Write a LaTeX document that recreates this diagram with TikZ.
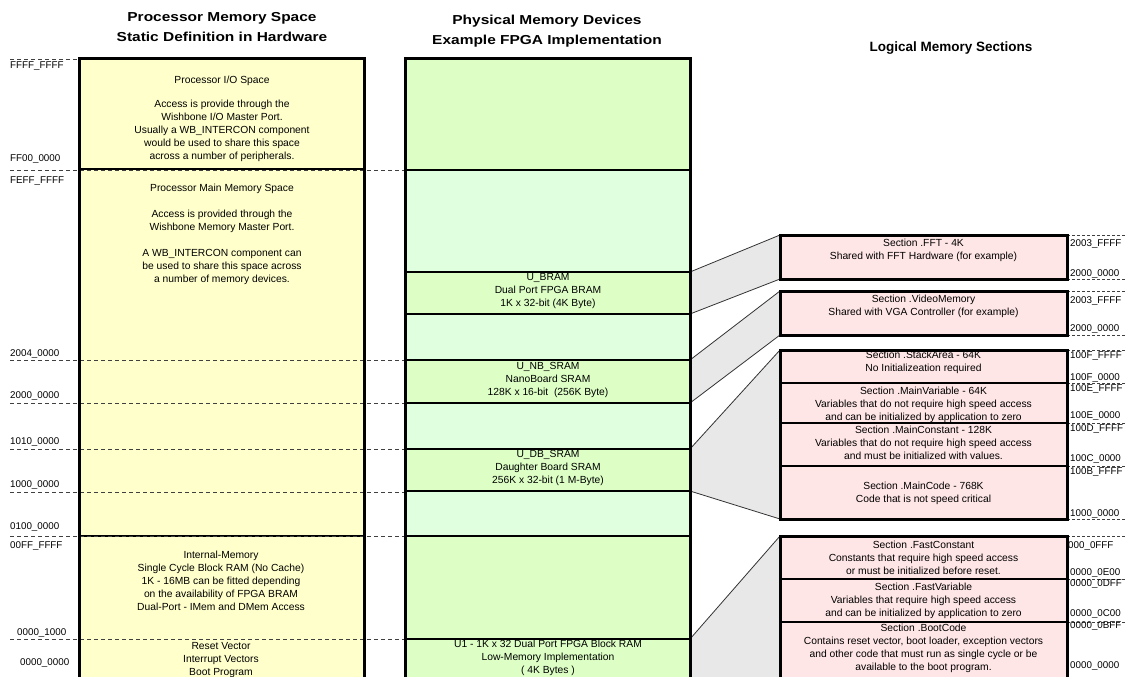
\documentclass[tikz,border=0pt]{standalone}
\usepackage{fontspec}
\setmainfont{Liberation Sans}
\newfontfamily\hdrfont{Liberation Sans}[FakeStretch=1.19]
\definecolor{ylw}{RGB}{255,255,204}
\definecolor{gdark}{RGB}{221,255,198}
\definecolor{glight}{RGB}{224,255,222}
\definecolor{pinkc}{RGB}{255,230,230}
\definecolor{wedgec}{RGB}{232,232,232}
\pgfdeclarelayer{bg}
\pgfsetlayers{bg,main}
\begin{document}
\begin{tikzpicture}[x=1pt,y=-1pt,
  blk/.style={draw=black, line width=1.6pt, inner sep=0pt, outer sep=0pt, anchor=north west, rectangle},
  lcol/.style={blk, fill=ylw, minimum width=285pt},
  mdark/.style={blk, fill=gdark, minimum width=285pt},
  mlight/.style={blk, fill=glight, minimum width=285pt},
  rbox/.style={blk, fill=pinkc, minimum width=287pt},
  txt/.style={font=\fontsize{10.3}{13}\selectfont, align=center, inner sep=0pt},
  adr/.style={font=\fontsize{9.8}{11}\selectfont, inner sep=0pt, anchor=base west},
  hdr/.style={font=\hdrfont\bfseries\fontsize{13}{20}\selectfont, align=center, inner sep=0pt},
  dsh/.style={black!75, line width=0.9pt, dash pattern=on 4pt off 3pt},
  rdsh/.style={black!75, line width=0.8pt, dash pattern=on 3pt off 2pt},
  wline/.style={draw=black!80, line width=0.8pt},
  outline/.style={draw=black, line width=3pt}
]
\useasboundingbox (0,0) rectangle (1127,677);
\clip (0,0) rectangle (1127,677);

% headers
\node[hdr] (h1) at (222,27) {Processor Memory Space\\Static Definition in Hardware};
\node[hdr] (h2) at (547,31) {Physical Memory Devices\\Example FPGA Implementation};
\node[hdr, anchor=base, font=\bfseries\fontsize{13.5}{20}\selectfont] (h3) at (951,51.6) {Logical Memory Sections};

% left column
\node[lcol, minimum height=110pt] (io) at (79,59) {};
\node[lcol, minimum height=367pt] (mainm) at (79,169) {};
\node[lcol, minimum height=154pt] (intm) at (79,536) {};

% middle column
\node[mdark, minimum height=111pt] (m1) at (405,59) {};
\node[mlight, minimum height=102pt] (m2) at (405,170) {};
\node[mdark, minimum height=42pt] (bram) at (405,272) {};
\node[mlight, minimum height=46pt] (m4) at (405,314) {};
\node[mdark, minimum height=43pt] (nbsram) at (405,360) {};
\node[mlight, minimum height=46pt] (m6) at (405,403) {};
\node[mdark, minimum height=42pt] (dbsram) at (405,449) {};
\node[mlight, minimum height=45pt] (m8) at (405,491) {};
\node[mdark, minimum height=103pt] (m9) at (405,536) {};
\node[mdark, minimum height=51pt] (u1) at (405,639) {};

% right column
\node[rbox, minimum height=44pt] (fft) at (780,235) {};
\node[rbox, minimum height=44pt] (video) at (780,291) {};
\node[rbox, minimum height=33pt] (stack) at (780,350) {};
\node[rbox, minimum height=40pt] (mvar) at (780,383) {};
\node[rbox, minimum height=43pt] (mconst) at (780,423) {};
\node[rbox, minimum height=53pt] (mcode) at (780,466) {};
\node[rbox, minimum height=43pt] (fconst) at (780,536) {};
\node[rbox, minimum height=43pt] (fvar) at (780,579) {};
\node[rbox, minimum height=68pt] (boot) at (780,622) {};

% wedges
\begin{pgfonlayer}{bg}
\fill[wedgec] (bram.north east) -- (fft.north west) -- (fft.south west) -- (bram.south east) -- cycle;
\fill[wedgec] (nbsram.north east) -- (video.north west) -- (video.south west) -- (nbsram.south east) -- cycle;
\fill[wedgec] (dbsram.north east) -- (stack.north west) -- (mcode.south west) -- (dbsram.south east) -- cycle;
\fill[wedgec] (u1.north east) -- (fconst.north west) -- (boot.south west) -- (u1.south east) -- cycle;
\end{pgfonlayer}
\draw[wline] (bram.north east) -- (fft.north west);
\draw[wline] (bram.south east) -- (fft.south west);
\draw[wline] (nbsram.north east) -- (video.north west);
\draw[wline] (nbsram.south east) -- (video.south west);
\draw[wline] (dbsram.north east) -- (stack.north west);
\draw[wline] (dbsram.south east) -- (mcode.south west);
\draw[wline] (u1.north east) -- (fconst.north west);

% dashed address lines, left
\draw[dsh] (10,59) -- (79,59);
\foreach \yy in {170,360,403,449,492,536,639} \draw[dsh] (10,\yy) -- (405,\yy);
% dashed address lines, right
\foreach \yy in {235,279,291,335,350,383,423,466,519,536,579,622} \draw[rdsh] (1067,\yy) -- (1127,\yy);

% outlines
\draw[outline] (io.north west) rectangle (intm.south east);
\draw[outline] (m1.north west) rectangle (u1.south east);
\draw[outline] (fft.north west) rectangle (fft.south east);
\draw[outline] (video.north west) rectangle (video.south east);
\draw[outline] (stack.north west) rectangle (mcode.south east);
\draw[outline] (fconst.north west) rectangle (boot.south east);

% left texts
\node[txt] (tio) at (222,119) {Processor I/O Space\\[11pt]Access is provide through the\\Wishbone I/O Master Port.\\Usually a WB\_INTERCON component\\would be used to share this space\\across a number of peripherals.};
\node[txt] (tmain) at (222,234.5) {Processor Main Memory Space\\[13pt]Access is provided through the\\Wishbone Memory Master Port.\\[13pt]A WB\_INTERCON component can\\be used to share this space across\\a number of memory devices.};
\node[txt] (tint) at (221,581) {Internal-Memory\\Single Cycle Block RAM (No Cache)\\1K - 16MB can be fitted depending\\on the availability of FPGA BRAM\\Dual-Port - IMem and DMem Access};
\node[txt] (treset) at (221,660) {Reset Vector\\Interrupt Vectors\\Boot Program};

% middle texts
\node[txt] (tbram) at (548,291) {U\_BRAM\\Dual Port FPGA BRAM\\1K x 32-bit (4K Byte)};
\node[txt] (tnb) at (548,379.5) {U\_NB\_SRAM\\NanoBoard SRAM\\128K x 16-bit\ \ (256K Byte)};
\node[txt] (tdb) at (548,468) {U\_DB\_SRAM\\Daughter Board SRAM\\256K x 32-bit (1 M-Byte)};
\node[txt] (tu1) at (548,658) {U1 - 1K x 32 Dual Port FPGA Block RAM\\Low-Memory Implementation\\( 4K Bytes )};

% right texts
\node[txt] (tfft) at (923.5,250) {Section .FFT - 4K\\Shared with FFT Hardware (for example)};
\node[txt] (tvid) at (923.5,306) {Section .VideoMemory\\Shared with VGA Controller (for example)};
\node[txt] (tstk) at (923.5,362.5) {Section .StackArea - 64K\\No Initializeation required};
\node[txt] (tmv) at (923.5,404.5) {Section .MainVariable - 64K\\Variables that do not require high speed access\\and can be initialized by application to zero};
\node[txt] (tmc) at (923.5,442.5) {Section .MainConstant - 128K\\Variables that do not require high speed access\\and must be initialized with values.};
\node[txt] (tmcode) at (923.5,493) {Section .MainCode - 768K\\Code that is not speed critical};
\node[txt] (tfc) at (923.5,557.5) {Section .FastConstant\\Constants that require high speed access\\or must be initialized before reset.};
\node[txt] (tfv) at (923.5,600.5) {Section .FastVariable\\Variables that require high speed access\\and can be initialized by application to zero};
\node[txt] (tboot) at (923.5,648) {Section .BootCode\\Contains reset vector, boot loader, exception vectors\\and other code that must run as single cycle or be\\available to the boot program.};

% left address labels
\node[adr] (a1) at (10,69) {FFFF\_FFFF};
\node[adr] (a2) at (10,161.6) {FF00\_0000};
\node[adr] (a3) at (10,183.6) {FEFF\_FFFF};
\node[adr] (a4) at (10,356.6) {2004\_0000};
\node[adr] (a5) at (10,398.6) {2000\_0000};
\node[adr] (a6) at (10,444.6) {1010\_0000};
\node[adr] (a7) at (10,487.6) {1000\_0000};
\node[adr] (a8) at (10,529.6) {0100\_0000};
\node[adr] (a9) at (10,548.6) {00FF\_FFFF};
\node[adr] (a10) at (17,635.6) {0000\_1000};
\node[adr] (a11) at (20,665.6) {0000\_0000};

% right address labels
\node[adr] (b1) at (1070,246.6) {2003\_FFFF};
\node[adr] (b2) at (1070,276.6) {2000\_0000};
\node[adr] (b3) at (1070,303.6) {2003\_FFFF};
\node[adr] (b4) at (1070,331.6) {2000\_0000};
\node[adr] (b5) at (1070,358.6) {100F\_FFFF};
\node[adr] (b6) at (1070,380.6) {100F\_0000};
\node[adr] (b7) at (1070,391.6) {100E\_FFFF};
\node[adr] (b8) at (1070,418.6) {100E\_0000};
\node[adr] (b9) at (1070,431.6) {100D\_FFFF};
\node[adr] (b10) at (1070,461.6) {100C\_0000};
\node[adr] (b11) at (1070,474.6) {100B\_FFFF};
\node[adr] (b12) at (1070,516.6) {1000\_0000};
\node[adr] (b13) at (1068,548.6) {000\_0FFF};
\node[adr] (b14) at (1070,575.6) {0000\_0E00};
\node[adr] (b15) at (1070,586.6) {0000\_0DFF};
\node[adr] (b16) at (1070,616.6) {0000\_0C00};
\node[adr] (b17) at (1070,628.6) {0000\_0BFF};
\node[adr] (b18) at (1070,668.6) {0000\_0000};
\end{tikzpicture}
\end{document}
